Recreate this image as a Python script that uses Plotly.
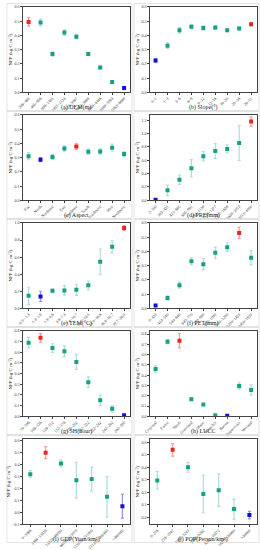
import plotly.graph_objects as go
from plotly.subplots import make_subplots

# ---- data ----
dem_labels = ["-206~465", "465~906", "906~1405", "1405~2124", "2124~3087", "3087~3888", "3888~4446", "4446~5063", "5063~6989"]
dem_vals = [0.495, 0.490, 0.270, 0.420, 0.390, 0.270, 0.175, 0.072, 0.030]
dem_err = [0.030, 0.025, 0.015, 0.020, 0.015, 0.012, 0.012, 0.010, 0.008]

slope_labels = ["0~1", "1~3", "3~6", "6~9", "9~12", "12~16", "16~20", "20~26", "26~51"]
slope_vals = [0.224, 0.328, 0.436, 0.460, 0.452, 0.455, 0.436, 0.448, 0.478]
slope_err = [0.012, 0.020, 0.020, 0.015, 0.015, 0.012, 0.010, 0.010, 0.012]

aspect_labels = ["Flat", "North", "Northeast", "East", "Southeast", "South", "Southwest", "West", "Northwest"]
aspect_vals = [0.310, 0.286, 0.305, 0.365, 0.378, 0.342, 0.343, 0.370, 0.325]
aspect_err = [0.025, 0.015, 0.018, 0.020, 0.020, 0.020, 0.020, 0.025, 0.018]

pre_labels = ["2~193", "193~421", "421~685", "685~961", "961~1138", "1138~1377", "1377~1638", "1638~2013", "2013~4000"]
pre_vals = [0.010, 0.150, 0.310, 0.480, 0.660, 0.740, 0.770, 0.860, 1.180]
pre_err = [0.010, 0.080, 0.070, 0.130, 0.070, 0.110, 0.060, 0.260, 0.070]

tem_labels = ["-9.5~-1.4", "-1.4~1.9", "1.9~4.6", "4.6~7.4", "7.4~10.7", "10.7~14.0", "14.0~16.6", "16.6~19.7", "19.7~26.0"]
tem_vals = [0.147, 0.140, 0.205, 0.210, 0.217, 0.270, 0.545, 0.720, 0.940]
tem_err = [0.100, 0.060, 0.020, 0.055, 0.065, 0.050, 0.150, 0.070, 0.030]

pet_labels = ["0~423", "423~540", "540~640", "640~770", "770~900", "900~1000", "1000~1200", "1200~1450", "1450~1920"]
pet_vals = [0.020, 0.073, 0.162, 0.330, 0.310, 0.390, 0.430, 0.530, 0.355]
pet_err = [0.006, 0.015, 0.020, 0.025, 0.040, 0.040, 0.030, 0.040, 0.050]

sh_labels = ["74~106", "106~126", "126~152", "152~178", "178~202", "202~222", "222~242", "242~262", "262~300"]
sh_vals = [0.690, 0.735, 0.640, 0.610, 0.510, 0.320, 0.150, 0.070, 0.010]
sh_err = [0.050, 0.040, 0.040, 0.050, 0.070, 0.050, 0.050, 0.030, 0.005]

lucc_labels = ["Cropland", "Forest", "Shrub", "Grassland", "Water", "Snow/Ice", "Barren", "Impervious", "Wetland"]
lucc_vals = [0.460, 0.725, 0.735, 0.167, 0.115, 0.010, 0.006, 0.295, 0.257]
lucc_err = [0.030, 0.020, 0.070, 0.010, 0.010, 0.008, 0.005, 0.030, 0.050]

gdp_labels = ["0~3466", "3466~13320", "13320~46030", "46030~113070", "113070~211300", "211300~389440", ">389440"]
gdp_vals = [0.320, 0.500, 0.410, 0.270, 0.280, 0.130, 0.052]
gdp_err = [0.030, 0.050, 0.030, 0.150, 0.100, 0.170, 0.100]

pop_labels = ["0~216", "216~1047", "1047~3243", "3243~8262", "8262~18372", "18372~39860", ">39860"]
pop_vals = [0.295, 0.540, 0.400, 0.186, 0.217, 0.065, 0.017]
pop_err = [0.070, 0.050, 0.040, 0.150, 0.130, 0.080, 0.030]

panel_titles = ["(a) DEM(m)", "(b) Slope(°)", "(c) Aspect", "(d) PRE(mm)", "(e) TEM(°C)",
                "(f) PET(mm)", "(g) SH(hour)", "(h) LUCC", "(i) GDP(Yuan/km²)", "(j) POP(Person/km²)"]
y_title = "NPP (kg C m⁻²)"

panels = [
    (dem_labels, dem_vals, dem_err, [0, 0.6], 0.1),
    (slope_labels, slope_vals, slope_err, [0, 0.6], 0.1),
    (aspect_labels, aspect_vals, aspect_err, [0, 0.6], 0.1),
    (pre_labels, pre_vals, pre_err, [0, 1.28], 0.2),
    (tem_labels, tem_vals, tem_err, [0, 1.0], 0.2),
    (pet_labels, pet_vals, pet_err, [0, 0.6], 0.1),
    (sh_labels, sh_vals, sh_err, [0, 0.8], 0.1),
    (lucc_labels, lucc_vals, lucc_err, [0, 0.83], 0.1),
    (gdp_labels, gdp_vals, gdp_err, [-0.1, 0.615], 0.1),
    (pop_labels, pop_vals, pop_err, [-0.057, 0.627], 0.1),
]

W, H = 260, 550
TEAL = "#16a085"
TEAL_E = "rgba(22,160,133,0.35)"
RED = "#e8281e"
RED_E = "rgba(232,40,30,0.45)"
BLUE = "#1010d8"
BLUE_E = "rgba(16,16,216,0.45)"
FONT = "Liberation Serif"

fig = make_subplots(rows=5, cols=2)

for i, (labels, vals, errs, yr, dt) in enumerate(panels):
    r, c = i // 2, i % 2
    imax = max(range(len(vals)), key=lambda k: vals[k])
    imin = min(range(len(vals)), key=lambda k: vals[k])
    groups = {
        "teal": [k for k in range(len(vals)) if k not in (imax, imin)],
        "red": [imax],
        "blue": [imin],
    }
    for g, (mc, ec) in {"teal": (TEAL, TEAL_E), "red": (RED, RED_E), "blue": (BLUE, BLUE_E)}.items():
        idx = groups[g]
        fig.add_trace(go.Scatter(
            x=[k for k in idx], y=[vals[k] for k in idx],
            mode="markers",
            marker=dict(symbol="square", size=4, color=mc),
            error_y=dict(type="data", array=[errs[k] for k in idx], color=ec, thickness=1.2, width=1.5),
            showlegend=False, hoverinfo="skip",
        ), row=r + 1, col=c + 1)

    x0 = (17 if c == 0 else 147) / W
    x1 = (127 if c == 0 else 257) / W
    ytop = 1 - (110 * r + 4) / H
    ybot = 1 - (110 * r + 91) / H
    fig.update_xaxes(
        domain=[x0, x1], range=[-0.5, len(vals) - 0.5],
        tickmode="array", tickvals=list(range(len(labels))), ticktext=labels,
        tickangle=-45, tickfont=dict(size=4, family=FONT, color="#333"),
        showline=True, linecolor="#444", linewidth=0.6, mirror=True,
        ticks="outside", ticklen=1.5, tickcolor="#444", tickwidth=0.5,
        showgrid=False, zeroline=False,
        row=r + 1, col=c + 1)
    fig.update_yaxes(
        domain=[ybot, ytop], range=yr, dtick=dt, tick0=0, tickformat=".1f",
        tickfont=dict(size=4, family=FONT, color="#333"),
        showline=True, linecolor="#444", linewidth=0.6, mirror=True,
        ticks="outside", ticklen=1.5, tickcolor="#444", tickwidth=0.5,
        showgrid=False, zeroline=False,
        title=dict(text=y_title, font=dict(size=5, family=FONT, color="#222"), standoff=1),
        row=r + 1, col=c + 1)
    fig.add_annotation(
        x=(x0 + x1) / 2, y=1 - (110 * r + 106) / H, xref="paper", yref="paper",
        text=panel_titles[i], showarrow=False,
        font=dict(size=6, family=FONT, color="#222"), xanchor="center", yanchor="middle")
    fig.add_shape(type="rect", xref="paper", yref="paper",
                  x0=(1 if c == 0 else 131) / W, x1=(129 if c == 0 else 259) / W,
                  y0=1 - (110 * r + 109.5) / H, y1=1 - (110 * r + 0.5) / H,
                  line=dict(color="#cfcfcf", width=0.6))

fig.update_layout(
    width=W, height=H, margin=dict(l=0, r=0, t=0, b=0),
    paper_bgcolor="white", plot_bgcolor="white",
    font=dict(family=FONT),
)

fig.write_html("out.html", config={"displayModeBar": False},
               post_script="document.body.style.margin='0';document.body.style.overflow='hidden';")
